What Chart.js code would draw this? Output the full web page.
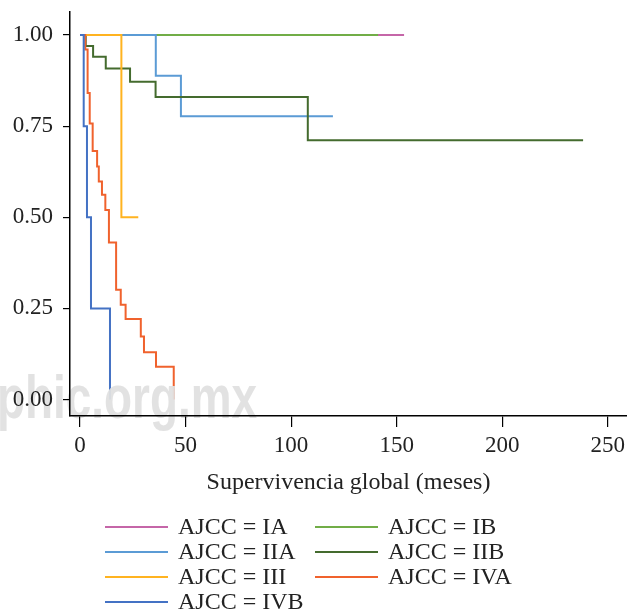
<!DOCTYPE html>
<html>
<head>
<meta charset="utf-8">
<script src="https://cdn.jsdelivr.net/npm/chart.js@4.4.0/dist/chart.umd.min.js"></script>
<style>
  html, body { margin: 0; padding: 0; background: #fff; }
  #wrap { width: 627px; height: 611px; }
</style>
</head>
<body>
<div id="wrap"><canvas id="km" width="627" height="611"></canvas></div>
<script>
// Kaplan-Meier curves by AJCC stage (time in months, survival proportion)
const stageLabels = ['AJCC = IA', 'AJCC = IB', 'AJCC = IIA', 'AJCC = IIB', 'AJCC = III', 'AJCC = IVA', 'AJCC = IVB'];
const stageColors = ['#C566A8', '#71AD47', '#5B9BD5', '#446B2E', '#FFB320', '#F0622D', '#4472C4'];

const iaTime = [0, 153.5];
const iaSurv = [1, 1];
const ibTime = [0, 141.2];
const ibSurv = [1, 1];
const iiaTime = [0, 35.9, 47.8, 119.8];
const iiaSurv = [1, 0.888, 0.777, 0.777];
const iibTime = [0, 2.7, 6.2, 12.2, 23.7, 35.8, 107.9, 238.3];
const iibSurv = [1, 0.97, 0.94, 0.908, 0.872, 0.83, 0.711, 0.711];
const iiiTime = [0, 19.6, 27.6];
const iiiSurv = [1, 0.5, 0.5];
const ivaTime = [0, 2.5, 3.6, 4.6, 6.0, 8.1, 8.9, 10.4, 12.0, 13.7, 17.1, 19.3, 21.6, 28.8, 30.3, 36.0, 44.4];
const ivaSurv = [1, 0.96, 0.841, 0.757, 0.682, 0.639, 0.598, 0.562, 0.52, 0.431, 0.301, 0.26, 0.221, 0.173, 0.13, 0.09, 0];
const ivbTime = [0, 1.75, 3.3, 5.2, 14.2];
const ivbSurv = [1, 0.75, 0.5, 0.25, 0];

const xTicks = [0, 50, 100, 150, 200, 250];
const yTicks = [0, 0.25, 0.5, 0.75, 1];

const times = [iaTime, ibTime, iiaTime, iibTime, iiiTime, ivaTime, ivbTime];
const survs = [iaSurv, ibSurv, iiaSurv, iibSurv, iiiSurv, ivaSurv, ivbSurv];

const datasets = [];
for (let i = 0; i < stageLabels.length; i++) {
    const pts = times[i].map((t, j) => ({x: t, y: survs[i][j]}));
    datasets.push({
        label: stageLabels[i],
        data: pts,
        borderColor: stageColors[i],
        backgroundColor: stageColors[i],
        borderWidth: 2,
        pointRadius: 0,
        stepped: true,
        fill: false,
        order: stageLabels.length - i  // later stages drawn on top
    });
}

const serif = "'Liberation Serif', 'Times New Roman', serif";
const textColor = '#222';

// light watermark sitting over the curves, under the axes
const watermark = {
    id: 'watermark',
    afterDatasetsDraw(chart) {
        const ctx = chart.ctx;
        ctx.save();
        ctx.font = "bold 62px 'Liberation Sans', Arial, sans-serif";
        ctx.fillStyle = 'rgba(224,224,224,0.95)';
        ctx.textBaseline = 'alphabetic';
        const txt = 'phic.org.mx';
        const w = ctx.measureText(txt).width;
        ctx.translate(-3, 418);
        ctx.scale(260 / w, 1);
        ctx.fillText(txt, 0, 0);
        ctx.restore();
    }
};

// two-column legend below the axis title
const gridLegend = {
    id: 'gridLegend',
    afterDraw(chart) {
        const ctx = chart.ctx;
        ctx.save();
        ctx.font = '24px ' + serif;
        ctx.textBaseline = 'middle';
        ctx.fillStyle = textColor;
        chart.data.datasets.forEach((ds, i) => {
            const col = i % 2;
            const row = Math.floor(i / 2);
            const x0 = col === 0 ? 105 : 315;
            const y = 527 + row * 25;
            ctx.strokeStyle = ds.borderColor;
            ctx.lineWidth = 2;
            ctx.beginPath();
            ctx.moveTo(x0, y);
            ctx.lineTo(x0 + 63, y);
            ctx.stroke();
            ctx.fillText(ds.label, x0 + 73, y + 1);
        });
        ctx.restore();
    }
};

new Chart(document.getElementById('km'), {
    type: 'line',
    data: { datasets: datasets },
    options: {
        responsive: false,
        animation: false,
        layout: { padding: { top: 12, left: 0, right: 0, bottom: 0 } },
        plugins: {
            legend: { display: false },
            tooltip: { enabled: false }
        },
        scales: {
            x: {
                type: 'linear',
                min: -4.74,
                max: 259.1,
                afterBuildTicks: (scale) => { scale.ticks = xTicks.map(v => ({value: v})); },
                afterFit: (scale) => {
                    scale.height = 195;
                    scale.paddingLeft = 0;
                    scale.paddingRight = 0;
                },
                border: { display: true, color: '#000', width: 1.5, z: 1 },
                grid: { display: true, drawOnChartArea: false, drawTicks: true, tickLength: 11, color: '#000', lineWidth: 1.2, z: 1 },
                ticks: {
                    z: 1,
                    padding: 5,
                    color: textColor,
                    font: { family: serif, size: 23 },
                    maxRotation: 0,
                    callback: (v) => String(v)
                },
                title: {
                    display: true,
                    text: 'Supervivencia global (meses)',
                    color: textColor,
                    font: { family: serif, size: 24 },
                    padding: { top: 0, bottom: 114 }
                }
            },
            y: {
                type: 'linear',
                min: -0.045,
                max: 1.063,
                afterBuildTicks: (scale) => { scale.ticks = yTicks.map(v => ({value: v})); },
                afterFit: (scale) => {
                    scale.width = 70;
                    scale.paddingTop = 0;
                    scale.paddingBottom = 0;
                },
                border: { display: true, color: '#000', width: 1.5, z: 1 },
                grid: { display: true, drawOnChartArea: false, drawTicks: true, tickLength: 7, color: '#000', lineWidth: 1.2, z: 1 },
                ticks: {
                    z: 1,
                    padding: 10,
                    color: textColor,
                    font: { family: serif, size: 23 },
                    callback: (v) => Number(v).toFixed(2)
                }
            }
        }
    },
    plugins: [watermark, gridLegend]
});
</script>
</body>
</html>
